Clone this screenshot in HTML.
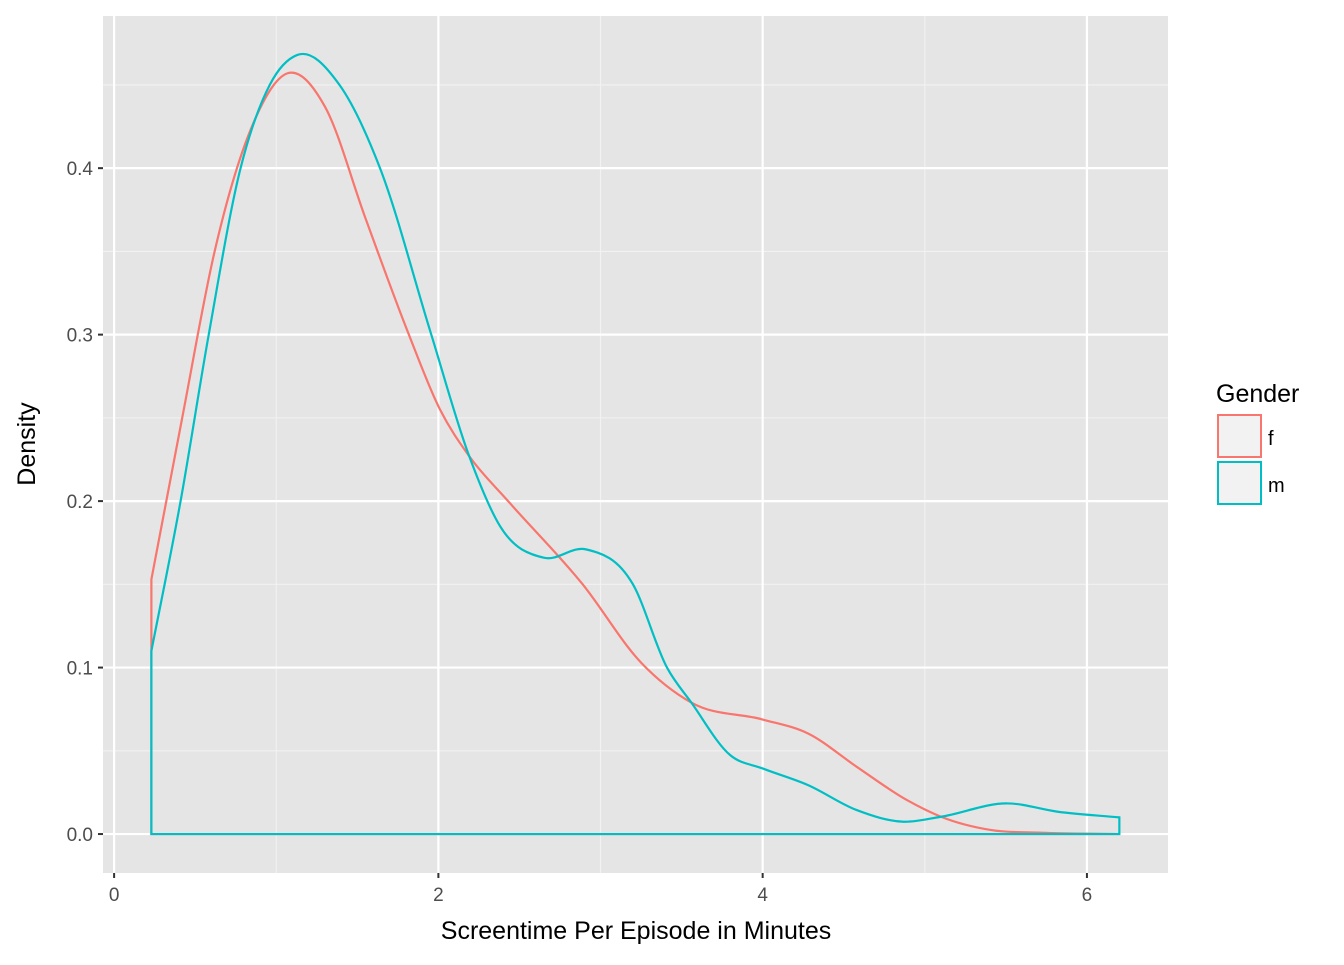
<!DOCTYPE html>
<html><head><meta charset="utf-8"><style>
body{margin:0;background:#fff;}
svg text{font-family:"Liberation Sans",Arial,sans-serif;}
</style></head><body>
<svg id="chart" width="1344" height="960" xmlns="http://www.w3.org/2000/svg">
<rect x="0" y="0" width="1344" height="960" fill="#fff"/>
<rect x="103" y="16" width="1065" height="857" fill="#e5e5e5"/>
<g id="grid"></g>
<g id="series"></g>
<g id="axes"></g>
<text x="636" y="939" font-size="25" text-anchor="middle" fill="#000">Screentime Per Episode in Minutes</text>
<text x="0" y="0" font-size="25" text-anchor="middle" fill="#000" transform="translate(35,444) rotate(-90)">Density</text>
<g>
<text x="1216" y="402" font-size="25" fill="#000">Gender</text>
<g>
<rect x="1218" y="415" width="43" height="42" fill="#f2f2f2" stroke="#F8766D" stroke-width="2"/>
<text x="1268" y="445" font-size="20" fill="#000">f</text>
</g>
<g>
<rect x="1218" y="462" width="43" height="42" fill="#f2f2f2" stroke="#00BFC4" stroke-width="2"/>
<text x="1268" y="492" font-size="20" fill="#000">m</text>
</g>
</g>
</svg>
<script>
const xTicks=[0,2,4,6];
const xMinor=[1,3,5];
const yTicks=[0,0.1,0.2,0.3,0.4];
const yMinor=[0.05,0.15,0.25,0.35,0.45];
const yTickLabels=["0.0","0.1","0.2","0.3","0.4"];
const fX=[0.23,0.42,0.62,0.85,1.07,1.30,1.55,1.81,2.01,2.19,2.43,2.89,3.25,3.56,4.0,4.28,4.58,4.89,5.10,5.41,5.72,6.2];
const fY=[0.153,0.25,0.35,0.425,0.457,0.437,0.37,0.302,0.255,0.227,0.2,0.15,0.103,0.079,0.0688,0.0604,0.0404,0.0204,0.0104,0.0024,0.0008,0];
const mX=[0.23,0.41,0.58,0.78,0.96,1.13,1.39,1.64,1.95,2.19,2.38,2.65,2.91,3.2,3.41,3.56,3.80,4.0,4.28,4.58,4.87,5.10,5.51,5.82,6.2];
const mY=[0.11,0.2,0.298,0.4,0.45,0.468,0.45,0.4,0.302,0.227,0.185,0.166,0.171,0.15,0.1,0.079,0.0474,0.0394,0.0294,0.0144,0.0074,0.0104,0.0184,0.0134,0.01];
const X0=103,X1=1168,Y0=873,Y1=16,xmin=-0.0685,xmax=6.5,ymin=-0.0234,ymax=0.4914;
const sx=v=>X0+(v-xmin)/(xmax-xmin)*(X1-X0);
const sy=v=>Y0-(v-ymin)/(ymax-ymin)*(Y0-Y1);
const NS="http://www.w3.org/2000/svg";
function mk(tag,attrs,parent){const e=document.createElementNS(NS,tag);for(const k in attrs)e.setAttribute(k,attrs[k]);parent.appendChild(e);return e;}
const grid=document.getElementById('grid'),axes=document.getElementById('axes'),series=document.getElementById('series');
xMinor.forEach(v=>{const l=mk('line',{x1:sx(v),x2:sx(v),y1:Y1,y2:Y0,stroke:'#f2f2f2','stroke-width':1.1},grid);

});
yMinor.forEach(v=>{const l=mk('line',{x1:X0,x2:X1,y1:sy(v),y2:sy(v),stroke:'#f2f2f2','stroke-width':1.1},grid);

});
xTicks.forEach(v=>{const l=mk('line',{x1:sx(v),x2:sx(v),y1:Y1,y2:Y0,stroke:'#fff','stroke-width':2.2},grid);


const t=mk('line',{x1:sx(v),x2:sx(v),y1:Y0,y2:Y0+5,stroke:'#333','stroke-width':2},axes);


const tx=mk('text',{x:sx(v),y:Y0+28,'font-size':19,'text-anchor':'middle',fill:'#4d4d4d'},axes);tx.textContent=v;

});
yTicks.forEach((v,i)=>{const l=mk('line',{x1:X0,x2:X1,y1:sy(v),y2:sy(v),stroke:'#fff','stroke-width':2.2},grid);


const t=mk('line',{x1:X0-5,x2:X0,y1:sy(v),y2:sy(v),stroke:'#333','stroke-width':2},axes);


const tx=mk('text',{x:X0-10,y:sy(v)+7,'font-size':19,'text-anchor':'end',fill:'#4d4d4d'},axes);tx.textContent=yTickLabels[i];

});
function curve(xs,ys){const n=xs.length;const m=[];
for(let i=0;i<n;i++){
if(i===0){m.push((ys[1]-ys[0])/(xs[1]-xs[0]));continue;}
if(i===n-1){m.push((ys[n-1]-ys[n-2])/(xs[n-1]-xs[n-2]));continue;}
const h0=xs[i]-xs[i-1],h1=xs[i+1]-xs[i];const d0=(ys[i]-ys[i-1])/h0,d1=(ys[i+1]-ys[i])/h1;
m.push((d0*h1+d1*h0)/(h0+h1));}
let d='M'+sx(xs[0])+','+sy(ys[0]);
for(let i=0;i<n-1;i++){const h=xs[i+1]-xs[i];
d+=' C'+sx(xs[i]+h/3)+','+sy(ys[i]+m[i]*h/3)+' '+sx(xs[i+1]-h/3)+','+sy(ys[i+1]-m[i+1]*h/3)+' '+sx(xs[i+1])+','+sy(ys[i+1]);}
d+=' L'+sx(xs[n-1])+','+sy(0)+' L'+sx(xs[0])+','+sy(0)+' Z';return d;}
const pf=mk('path',{d:curve(fX,fY),fill:'none',stroke:'#F8766D','stroke-width':2.2},series);


const pm=mk('path',{d:curve(mX,mY),fill:'none',stroke:'#00BFC4','stroke-width':2.2},series);


</script>
</body></html>
